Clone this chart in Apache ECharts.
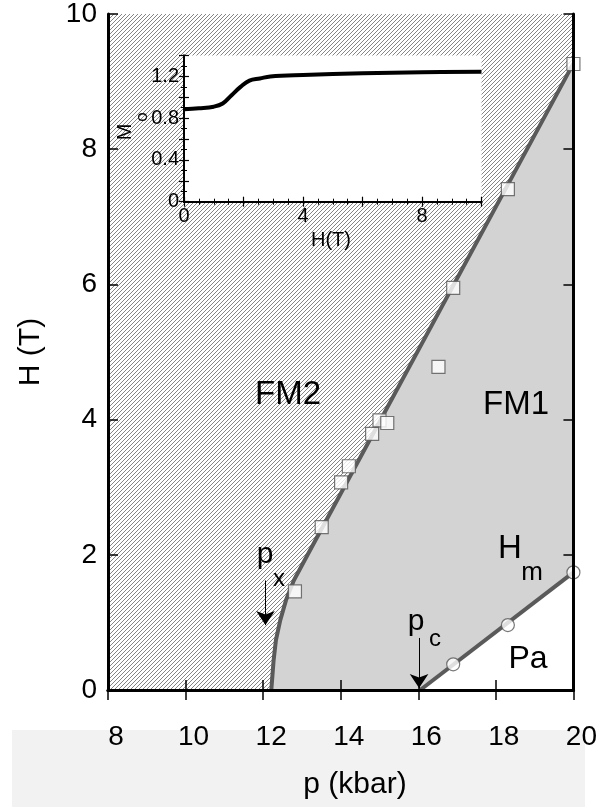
<!DOCTYPE html>
<html>
<head>
<meta charset="utf-8">
<script src="https://cdn.jsdelivr.net/npm/echarts@6/dist/echarts.min.js"></script>
<style>
html,body{margin:0;padding:0;background:#fff;}
#main{width:600px;height:807px;}
</style>
</head>
<body>
<div id="main"></div>
<script>
// ---- data ----
// phase boundary FM2 / FM1
const boundaryP = [12.21, 12.27, 12.33, 12.44, 12.59, 12.79, 13.07, 20.0];
const boundaryH = [0, 0.44, 0.74, 1.03, 1.33, 1.62, 1.92, 9.27];
// open squares on the boundary
const squareP = [12.82, 13.51, 14.01, 14.21, 14.81, 15.00, 15.20, 16.52, 16.90, 18.31, 20.0];
const squareH = [1.46, 2.41, 3.07, 3.31, 3.79, 3.99, 3.95, 4.78, 5.95, 7.41, 9.26];
// Hm line FM1 / Pa
const hmP = [16.05, 20.0];
const hmH = [0, 1.74];
// open circles on Hm
const circleP = [16.90, 18.31, 20.0];
const circleH = [0.38, 0.96, 1.74];
// inset magnetisation curve
const insetH = [0, 0.5, 1.0, 1.3, 1.6, 1.9, 2.2, 2.55, 2.9, 4, 6, 8, 10];
const insetM = [0.885, 0.895, 0.91, 0.94, 1.02, 1.10, 1.16, 1.18, 1.20, 1.214, 1.23, 1.24, 1.245];
// axis ranges / ticks
const pRange = [8, 20], pStep = 2;
const hRange = [0, 10], hStep = 2;
const inHRange = [0, 10], inHStep = 2;
const inMRange = [0, 1.4], inMStep = 0.2;
// arrows marking px and pc
const pxArrowP = [12.06, 12.06], pxArrowH = [1.62, 0.96];
const pcArrowP = [16.02, 16.02], pcArrowH = [0.77, 0.03];

const FONT = '"Liberation Sans", Arial, Helvetica, sans-serif';
const zip = (a, b) => a.map((v, i) => [v, b[i]]);

// hatch pattern
const tile = document.createElement('canvas');
tile.width = 4; tile.height = 4;
const tc = tile.getContext('2d');
tc.fillStyle = '#ffffff'; tc.fillRect(0, 0, 4, 4);
tc.fillStyle = '#858585';
for (let i = 0; i < 4; i++) tc.fillRect(i, 3 - i, 1, 1);

const boundary = zip(boundaryP, boundaryH);
const hm = zip(hmP, hmH);
const hatchPoly = [[pRange[0], hRange[0]]].concat(boundary, [[pRange[1], hRange[1]], [pRange[0], hRange[1]]]);
const grayPoly = boundary.concat(hm.slice().reverse());

const chart = echarts.init(document.getElementById('main'), null, {renderer: 'canvas'});

const mainAxisLine = {lineStyle: {color: '#000', width: 3}};
const mainTick = {inside: true, length: 10, lineStyle: {color: '#000', width: 1.5}};
const inAxisLine = {lineStyle: {color: '#000', width: 2}};
const inTick = {inside: true, length: 5, lineStyle: {color: '#000', width: 1.2}};
const inMinor = {show: true, length: 3, lineStyle: {color: '#000', width: 1}};

const option = {
  animation: false,
  backgroundColor: '#fff',
  grid: [
    {left: 108, top: 12.5, width: 469, height: 677.5, show: false},
    {left: 184, top: 55.5, width: 297.5, height: 146.2, show: true, backgroundColor: '#fff', borderWidth: 0, z: 3}
  ],
  xAxis: [
    {gridIndex: 0, type: 'value', min: pRange[0], max: pRange[1], interval: pStep, position: 'bottom', z: 5,
     axisLine: mainAxisLine, axisTick: mainTick, splitLine: {show: false},
     axisLabel: {fontSize: 28, fontFamily: FONT, color: '#000', margin: 33, padding: [0, 0, 0, 16]}},
    {gridIndex: 0, type: 'value', min: pRange[0], max: pRange[1], interval: pStep, position: 'top', z: 5,
     axisLine: mainAxisLine, axisTick: mainTick, splitLine: {show: false}, axisLabel: {show: false}},
    {gridIndex: 1, type: 'value', min: inHRange[0], max: inHRange[1], interval: inHStep, position: 'bottom', z: 7,
     axisLine: inAxisLine, axisTick: inTick, minorTick: Object.assign({splitNumber: 4}, inMinor), splitLine: {show: false}, minorSplitLine: {show: false},
     axisLabel: {fontSize: 20, fontFamily: FONT, color: '#000', margin: 5,
       formatter: v => (Math.round(v) % 4 === 0 ? String(Math.round(v)) : '')}},
    {gridIndex: 1, type: 'value', min: inHRange[0], max: inHRange[1], interval: inHStep, position: 'top', z: 7,
     axisLine: inAxisLine, axisTick: inTick, minorTick: Object.assign({splitNumber: 4}, inMinor), splitLine: {show: false}, axisLabel: {show: false}}
  ],
  yAxis: [
    {gridIndex: 0, type: 'value', min: hRange[0], max: hRange[1], interval: hStep, position: 'left', z: 5,
     axisLine: mainAxisLine, axisTick: mainTick, splitLine: {show: false},
     axisLabel: {fontSize: 28, fontFamily: FONT, color: '#000', margin: 11, padding: [5, 0, 0, 0]}},
    {gridIndex: 0, type: 'value', min: hRange[0], max: hRange[1], interval: hStep, position: 'right', z: 5,
     axisLine: mainAxisLine, axisTick: mainTick, splitLine: {show: false}, axisLabel: {show: false}},
    {gridIndex: 1, type: 'value', min: inMRange[0], max: inMRange[1], interval: inMStep, position: 'left', z: 7,
     axisLine: inAxisLine, axisTick: inTick, minorTick: Object.assign({splitNumber: 2}, inMinor), splitLine: {show: false},
     axisLabel: {fontSize: 20, fontFamily: FONT, color: '#000', margin: 5, padding: [0, 0, 10, 0],
       formatter: v => { const k = Math.round(v * 10); return k % 4 === 0 ? (k === 0 ? '0' : (k / 10).toFixed(1)) : ''; }}},
    {gridIndex: 1, type: 'value', min: inMRange[0], max: inMRange[1], interval: inMStep, position: 'right', z: 7,
     axisLine: inAxisLine, axisTick: inTick, minorTick: Object.assign({splitNumber: 2}, inMinor), splitLine: {show: false}, axisLabel: {show: false}}
  ],
  series: [
    {type: 'custom', xAxisIndex: 0, yAxisIndex: 0, z: 1, silent: true, clip: true,
     data: [[pRange[0], hRange[0]]],
     renderItem: (params, api) => ({
       type: 'group',
       children: [
         {type: 'polygon', shape: {points: hatchPoly.map(p => api.coord(p))}, style: {fill: {image: tile, repeat: 'repeat'}, stroke: null}},
         {type: 'polygon', shape: {points: grayPoly.map(p => api.coord(p))}, style: {fill: '#d3d3d3', stroke: null}}
       ]
     })},
    {type: 'line', xAxisIndex: 0, yAxisIndex: 0, z: 2, data: boundary, showSymbol: false, symbol: 'none',
     lineStyle: {color: '#5a5a5a', width: 4}},
    {type: 'line', xAxisIndex: 0, yAxisIndex: 0, z: 2, data: hm, showSymbol: false, symbol: 'none',
     lineStyle: {color: '#5a5a5a', width: 4}},
    {type: 'scatter', xAxisIndex: 0, yAxisIndex: 0, z: 3, data: zip(squareP, squareH), symbol: 'rect', symbolSize: 13,
     itemStyle: {color: '#fff', borderColor: '#555', borderWidth: 1.2}},
    {type: 'scatter', xAxisIndex: 0, yAxisIndex: 0, z: 3, data: zip(circleP, circleH), symbol: 'circle', symbolSize: 13,
     itemStyle: {color: '#fff', borderColor: '#555', borderWidth: 1.2}},
    {type: 'lines', coordinateSystem: 'cartesian2d', xAxisIndex: 0, yAxisIndex: 0, z: 4,
     symbol: ['none', 'arrow'], symbolSize: 14,
     lineStyle: {color: '#000', width: 1, opacity: 1},
     data: [{coords: zip(pxArrowP, pxArrowH)}, {coords: zip(pcArrowP, pcArrowH)}]},
    {type: 'line', xAxisIndex: 2, yAxisIndex: 2, z: 6, data: zip(insetH, insetM), smooth: 0.4, showSymbol: false, symbol: 'none',
     lineStyle: {color: '#000', width: 4}}
  ],
  graphic: [
    {type: 'rect', z: -1, shape: {x: 12, y: 730, width: 573, height: 77}, style: {fill: '#f2f2f2'}},
    {type: 'text', z: 10, x: 355, y: 785, style: {text: 'p (kbar)', font: '30px ' + FONT, fill: '#000', align: 'center', verticalAlign: 'middle'}},
    {type: 'text', z: 10, x: 31, y: 352, rotation: Math.PI / 2, style: {text: 'H (T)', font: '30px ' + FONT, fill: '#000', align: 'center', verticalAlign: 'middle'}},
    {type: 'text', z: 10, x: 331, y: 240, style: {text: 'H(T)', font: '20px ' + FONT, fill: '#000', align: 'center', verticalAlign: 'middle'}},
    {type: 'text', z: 10, x: 125, y: 132, rotation: Math.PI / 2, style: {text: 'M', font: '20px ' + FONT, fill: '#000', align: 'center', verticalAlign: 'middle'}},
    {type: 'text', z: 10, x: 142, y: 117, rotation: Math.PI / 2, style: {text: 'o', font: '17px ' + FONT, fill: '#000', align: 'center', verticalAlign: 'middle'}},
    {type: 'text', z: 10, x: 288, y: 395, style: {text: 'FM2', font: '33px ' + FONT, fill: '#000', align: 'center', verticalAlign: 'middle'}},
    {type: 'text', z: 10, x: 516, y: 405, style: {text: 'FM1', font: '33px ' + FONT, fill: '#000', align: 'center', verticalAlign: 'middle'}},
    {type: 'text', z: 10, x: 510, y: 549, style: {text: 'H', font: '33px ' + FONT, fill: '#000', align: 'center', verticalAlign: 'middle'}},
    {type: 'text', z: 10, x: 532, y: 573, style: {text: 'm', font: '26px ' + FONT, fill: '#000', align: 'center', verticalAlign: 'middle'}},
    {type: 'text', z: 10, x: 528, y: 659, style: {text: 'Pa', font: '32px ' + FONT, fill: '#000', align: 'center', verticalAlign: 'middle'}},
    {type: 'text', z: 10, x: 265, y: 555, style: {text: 'p', font: '30px ' + FONT, fill: '#000', align: 'center', verticalAlign: 'middle'}},
    {type: 'text', z: 10, x: 279, y: 579, style: {text: 'x', font: '24px ' + FONT, fill: '#000', align: 'center', verticalAlign: 'middle'}},
    {type: 'text', z: 10, x: 416, y: 622, style: {text: 'p', font: '30px ' + FONT, fill: '#000', align: 'center', verticalAlign: 'middle'}},
    {type: 'text', z: 10, x: 435, y: 639, style: {text: 'c', font: '24px ' + FONT, fill: '#000', align: 'center', verticalAlign: 'middle'}}
  ]
};
chart.setOption(option);
</script>
</body>
</html>
